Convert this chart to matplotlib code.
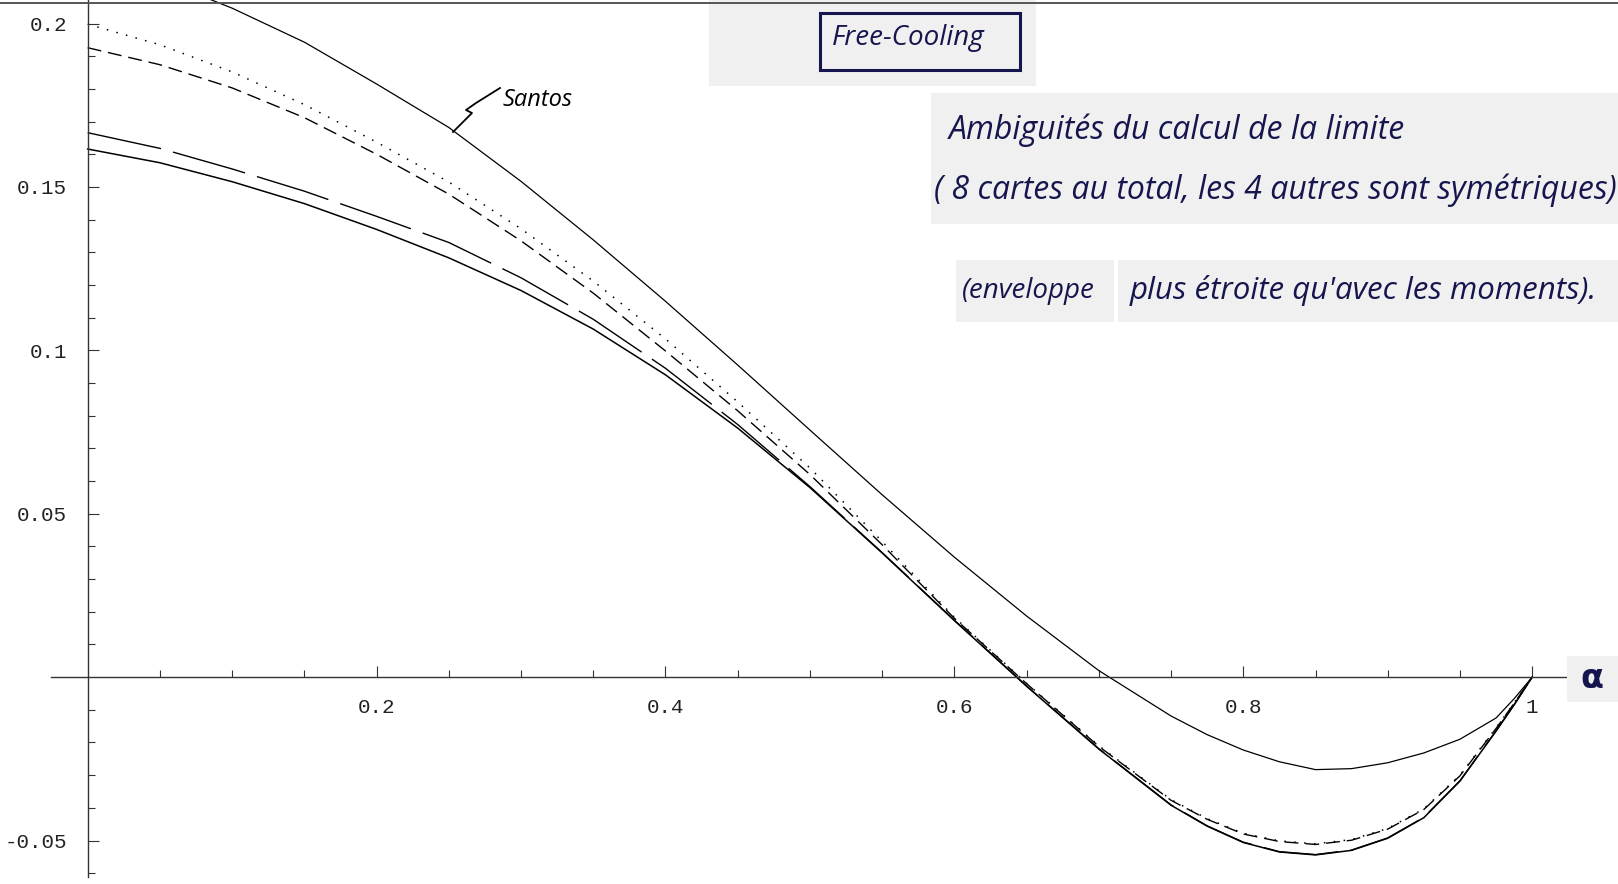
import matplotlib
matplotlib.use("Agg")
import matplotlib.pyplot as plt
from matplotlib.lines import Line2D
from matplotlib.patches import Rectangle
from matplotlib.ticker import FixedLocator

# alpha grid and the five limit curves
alpha = [0.0, 0.05, 0.10, 0.15, 0.20, 0.25, 0.30, 0.35, 0.40, 0.45, 0.50, 0.55,
         0.60, 0.65, 0.70, 0.75, 0.775, 0.80, 0.825, 0.85, 0.875, 0.90, 0.925,
         0.95, 0.975, 0.9875, 1.0]
santos = [0.2215, 0.2135, 0.2047, 0.1943, 0.1815, 0.1682, 0.1517, 0.1338, 0.1150,
          0.0955, 0.0756, 0.0558, 0.0367, 0.0187, 0.0020, -0.0119, -0.0176, -0.0223,
          -0.0259, -0.0283, -0.0280, -0.0262, -0.0232, -0.0190, -0.0125, -0.0066, 0.0]
lower = [0.1616, 0.1574, 0.1516, 0.1449, 0.1370, 0.1283, 0.1183, 0.1065, 0.0925,
         0.0762, 0.0580, 0.0380, 0.0173, -0.0028, -0.0220, -0.0392, -0.0456, -0.0506,
         -0.0535, -0.0544, -0.0530, -0.0493, -0.0430, -0.0318, -0.0165, -0.0085, 0.0]
long_dash = [0.1666, 0.1618, 0.1555, 0.1487, 0.1410, 0.1330, 0.1222, 0.1095, 0.0945,
             0.0773, 0.0583, 0.0381, 0.0174, -0.0027, -0.0219, -0.0391, -0.0455, -0.0505,
             -0.0534, -0.0543, -0.0529, -0.0492, -0.0429, -0.0317, -0.0164, -0.0084, 0.0]
dashed = [0.1926, 0.1874, 0.1803, 0.1712, 0.1600, 0.1478, 0.1335, 0.1175, 0.0998,
          0.0815, 0.0620, 0.0405, 0.0180, -0.0020, -0.0212, -0.0377, -0.0435, -0.0480,
          -0.0503, -0.0512, -0.0499, -0.0465, -0.0405, -0.0302, -0.0157, -0.0080, 0.0]
dotted = [0.1998, 0.1935, 0.1852, 0.1752, 0.1637, 0.1515, 0.1372, 0.1212, 0.1035,
          0.0842, 0.0640, 0.0415, 0.0183, -0.0019, -0.0210, -0.0375, -0.0433, -0.0478,
          -0.0501, -0.0510, -0.0497, -0.0463, -0.0403, -0.0300, -0.0155, -0.0079, 0.0]

xticks = [0.2, 0.4, 0.6, 0.8, 1.0]
xlabels = ["0.2", "0.4", "0.6", "0.8", "1"]
yticks = [-0.05, 0.05, 0.1, 0.15, 0.2]
ylabels = ["-0.05", "0.05", "0.1", "0.15", "0.2"]

W, H = 1618, 884
INK = "#16164e"
PAPER = "#f0f0f0"

fig = plt.figure(figsize=(W / 100, H / 100), dpi=100)
ax = fig.add_axes([0, 0, 1, 1])
ax.set_xlim(-0.0607, 1.0594)
ax.set_ylim(-0.0633, 0.2072)


def px(x, y):
    # pixel position -> figure fraction
    return x / W, 1 - y / H


# axes through the origin, Mathematica style
for side in ("top", "right"):
    ax.spines[side].set_visible(False)
ax.spines["left"].set_position(("data", 0))
ax.spines["bottom"].set_position(("data", 0))
ax.spines["left"].set_bounds(-0.0612, 0.2072)
ax.spines["bottom"].set_bounds(-0.0254, 1.024)
for side in ("left", "bottom"):
    ax.spines[side].set_color("#333333")
    ax.spines[side].set_linewidth(1.0)

ax.xaxis.set_major_locator(FixedLocator(xticks))
ax.xaxis.set_minor_locator(FixedLocator([0.05 * i for i in range(1, 21) if i % 4]))
ax.yaxis.set_major_locator(FixedLocator(yticks))
ax.yaxis.set_minor_locator(FixedLocator([0.01 * i for i in range(-6, 21) if i % 5]))
ax.set_xticklabels(xlabels)
ax.set_yticklabels(ylabels)
ax.tick_params(which="both", direction="in", color="#333333", width=0.8,
               labelsize=15, labelcolor="#222222")
ax.tick_params(which="major", length=8)
ax.tick_params(which="minor", length=4.8)
ax.tick_params(axis="x", which="major", pad=15)
ax.tick_params(axis="y", which="major", pad=15)
for lab in ax.get_xticklabels() + ax.get_yticklabels():
    lab.set_family("Liberation Mono")

ax.plot(alpha, santos, color="black", lw=0.9)
ax.plot(alpha, lower, color="black", lw=1.1)
ax.plot(alpha, long_dash, color="black", lw=1.0, dashes=(54, 9))
ax.plot(alpha, dashed, color="black", lw=1.0, dashes=(10, 5))
ax.plot(alpha, dotted, color="black", lw=1.1, dashes=(1, 5.5))

# edge of the sheet at the top
fig.add_artist(Line2D([0, 1], [1 - 3 / H, 1 - 3 / H], color="#555555", lw=1.4))

# pasted paper slips
slips = [(709, 0, 327, 86), (931, 93, 687, 131), (956, 260, 158, 62),
         (1118, 260, 500, 62), (1567, 656, 51, 46)]
for x0, y0, w, h in slips:
    fig.add_artist(Rectangle(px(x0, y0 + h), w / W, h / H, facecolor=PAPER,
                             edgecolor="none", transform=fig.transFigure))

hand = dict(family="Open Sans", style="italic", color=INK)
fig.add_artist(Rectangle(px(820, 70), 200 / W, 57 / H, facecolor="none",
                         edgecolor=INK, lw=2.2, transform=fig.transFigure))
fig.text(*px(908, 38), "Free-Cooling", ha="center", va="center", fontsize=20, **hand)
fig.text(*px(949, 130), "Ambiguités du calcul de la limite", ha="left",
         va="center", fontsize=23, **hand)
fig.text(*px(934, 190), "( 8 cartes au total, les 4 autres sont symétriques)",
         ha="left", va="center", fontsize=23, **hand)
fig.text(*px(962, 291), "(enveloppe", ha="left", va="center", fontsize=20, **hand)
fig.text(*px(1130, 291), "plus étroite qu'avec les moments).", ha="left",
         va="center", fontsize=22.5, **hand)
fig.text(*px(1592, 678), "α", ha="center", va="center", fontsize=24,
         fontweight="bold", color=INK)

# Santos label with its squiggly leader
sx = [453, 472, 466, 476, 500]
sy = [132, 113, 110, 103, 88]
fig.add_artist(Line2D([px(a, b)[0] for a, b in zip(sx, sy)],
                      [px(a, b)[1] for a, b in zip(sx, sy)], color="black", lw=1.3))
fig.text(*px(503, 100), "Santos", ha="left", va="center", fontsize=17,
         family="Open Sans", style="italic", color="black")

fig.savefig("out.png", dpi=100)
